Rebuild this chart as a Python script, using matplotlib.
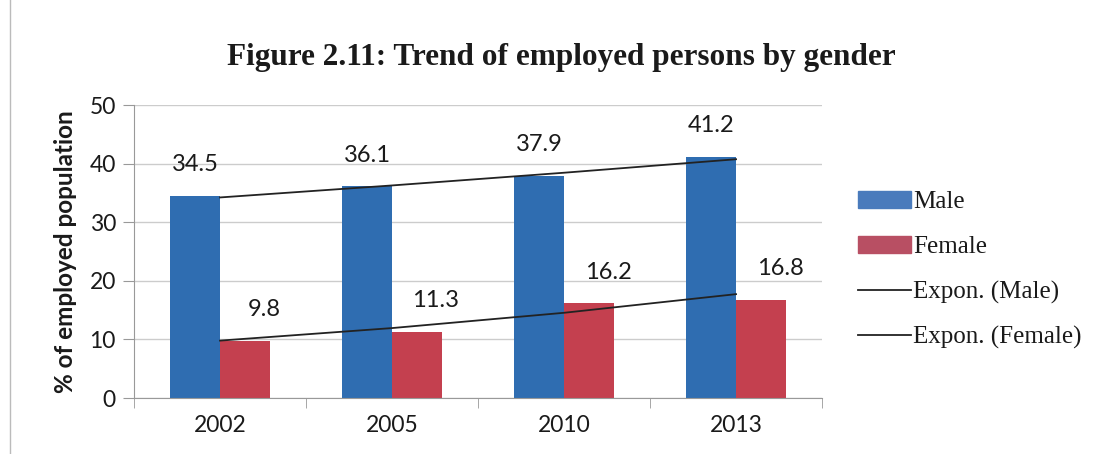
import matplotlib.pyplot as plt
import numpy as np
from matplotlib.lines import Line2D
from matplotlib.patches import Patch

years = ['2002', '2005', '2010', '2013']
male = [34.5, 36.1, 37.9, 41.2]
female = [9.8, 11.3, 16.2, 16.8]

blue = '#2f6db1'
red = '#c4404f'
sans = ['Lato', 'DejaVu Sans']
serif = ['Liberation Serif', 'DejaVu Serif']

fig = plt.figure(figsize=(11.04, 4.54), dpi=100)
ax = fig.add_axes([0.1214, 0.1233, 0.6232, 0.6454])

x = np.arange(len(years))
w = 0.29
ax.bar(x - w / 2, male, w, color=blue, zorder=2)
ax.bar(x + w / 2, female, w, color=red, zorder=2)

# exponential trendlines (Excel-style, fitted on category index 1..n)
xi = x + 1
for vals in (male, female):
    b, a = np.polyfit(xi, np.log(vals), 1)
    ax.plot(x, np.exp(a + b * xi), color='#222222', lw=1.3, zorder=3)

for i in range(len(years)):
    ax.text(x[i] - w / 2, male[i] + 5.3, f'{male[i]}', ha='center', va='center',
            fontsize=17, family=sans, color='#1a1a1a')
    ax.text(x[i] + w / 2 + 0.11, female[i] + 5.3, f'{female[i]}', ha='center', va='center',
            fontsize=17, family=sans, color='#1a1a1a')

ax.set_xlim(-0.5, 3.5)
ax.set_ylim(0, 50)
ax.set_yticks(range(0, 51, 10))
ax.set_xticks(x)
ax.set_xticklabels(years)
ax.set_xticks(np.arange(-0.5, 4, 1), minor=True)
ax.tick_params(axis='x', which='major', length=0, pad=12, labelsize=16.5)
ax.tick_params(axis='x', which='minor', length=7, color='#999999', direction='out')
ax.tick_params(axis='y', length=8, color='#999999', pad=5, labelsize=16.5)
for lab in ax.get_xticklabels() + ax.get_yticklabels():
    lab.set_family(sans)
    lab.set_color('#1a1a1a')

ax.grid(axis='y', color='#cccccc', lw=1, zorder=0)
for s in ('top', 'right'):
    ax.spines[s].set_visible(False)
for s in ('left', 'bottom'):
    ax.spines[s].set_color('#999999')

ax.set_ylabel('% of employed population', fontsize=17.5, fontweight='bold',
              family=sans, color='#1a1a1a', labelpad=9)

fig.text(0.508, 0.873, 'Figure 2.11: Trend of employed persons by gender',
         ha='center', va='center', fontsize=22.5, fontweight='bold', family=serif,
         color='#1a1a1a')

handles = [Patch(color='#4a7bbc'), Patch(color='#b84f63'),
           Line2D([], [], color='#222222', lw=1.3), Line2D([], [], color='#222222', lw=1.3)]
labels = ['Male', 'Female', 'Expon. (Male)', 'Expon. (Female)']
fig.legend(handles, labels, loc='center left', bbox_to_anchor=(0.757, 0.405),
           frameon=False, prop={'family': serif, 'size': 18}, labelspacing=0.9,
           handlelength=2.1, handletextpad=0.1, handleheight=0.7, labelcolor='#1a1a1a')

fig.add_artist(Line2D([0.009, 0.009], [0, 1], transform=fig.transFigure, color='#bbbbbb', lw=1))

fig.savefig('out.png', dpi=100)
